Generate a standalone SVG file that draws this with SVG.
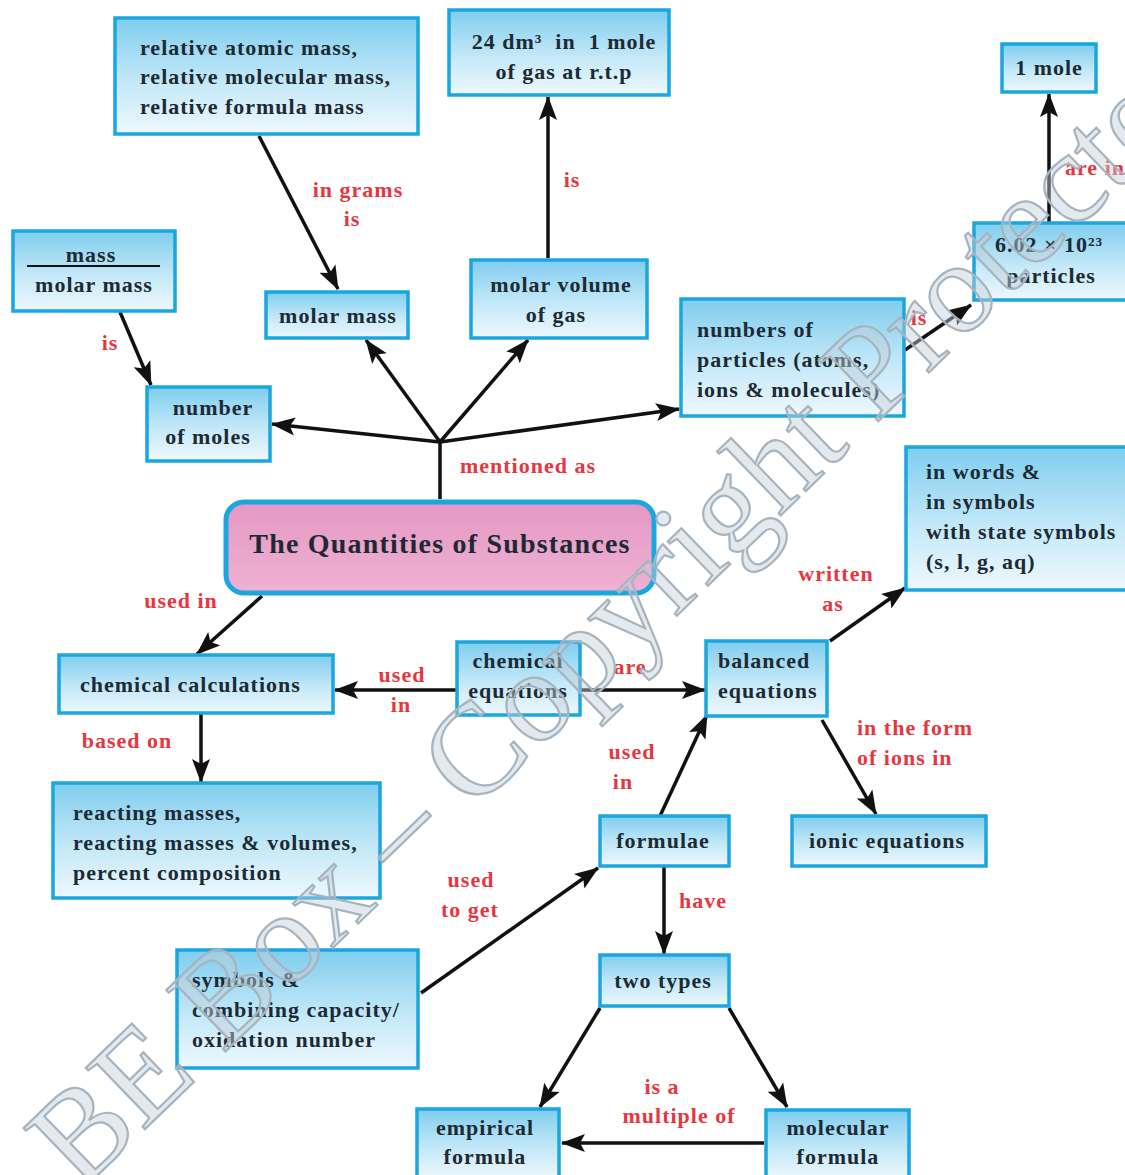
<svg xmlns="http://www.w3.org/2000/svg" width="1125" height="1175" viewBox="0 0 1125 1175">
<style>
.box{fill:url(#bg);stroke:#1aa7df;stroke-width:3.5}
.t{font-family:"Liberation Serif","Times New Roman",serif;font-weight:bold;font-size:22px;letter-spacing:1px;fill:#1e2a33}
.c{text-anchor:middle}
.lbl{font-family:"Liberation Serif","Times New Roman",serif;font-weight:bold;font-size:22px;letter-spacing:1px;fill:#e8363f;text-anchor:middle}
.st{text-anchor:start}
.ln{stroke:#111;stroke-width:3.5;fill:none;marker-end:url(#ah)}
.ln0{stroke:#111;stroke-width:3.5;fill:none}
.wm{font-family:"Liberation Serif","Times New Roman",serif;font-size:130px;fill:#c4ced6;fill-opacity:0.45;stroke:#a6b4bf;stroke-width:2.2}
</style>
<defs>
<linearGradient id="bg" x1="0" y1="0" x2="0" y2="1">
<stop offset="0" stop-color="#7fcdee"/>
<stop offset="0.55" stop-color="#c3e8f8"/>
<stop offset="1" stop-color="#eef8fd"/>
</linearGradient>
<linearGradient id="pg" x1="0" y1="0" x2="0" y2="1">
<stop offset="0" stop-color="#e597c4"/>
<stop offset="1" stop-color="#eeb2d3"/>
</linearGradient>
<marker id="ah" markerUnits="userSpaceOnUse" markerWidth="24" markerHeight="20" viewBox="0 0 24 20" refX="23" refY="10" orient="auto">
<path d="M0,1 L24,10 L0,19 L5,10 z" fill="#111"/>
</marker>
</defs>
<rect width="1125" height="1175" fill="#ffffff"/>

<g id="connectors">
<line class="ln" x1="259" y1="136" x2="338" y2="289"/>
<line class="ln" x1="548" y1="258" x2="548" y2="97"/>
<line class="ln" x1="1049" y1="222" x2="1049" y2="94"/>
<line class="ln" x1="120" y1="312" x2="151" y2="385"/>
<line class="ln0" x1="440" y1="442" x2="440" y2="499"/>
<line class="ln" x1="440" y1="442" x2="272" y2="424"/>
<line class="ln" x1="440" y1="442" x2="366" y2="340"/>
<line class="ln" x1="440" y1="442" x2="528" y2="340"/>
<line class="ln" x1="440" y1="442" x2="679" y2="409"/>
<line class="ln" x1="905" y1="350" x2="971" y2="305"/>
<line class="ln" x1="262" y1="596" x2="197" y2="654"/>
<line class="ln" x1="457" y1="690" x2="335" y2="690"/>
<line class="ln" x1="580" y1="690" x2="705" y2="690"/>
<line class="ln" x1="201" y1="713" x2="201" y2="782"/>
<line class="ln" x1="830" y1="641" x2="905" y2="588"/>
<line class="ln" x1="822" y1="720" x2="876" y2="814"/>
<line class="ln" x1="660" y1="816" x2="707" y2="715"/>
<line class="ln" x1="421" y1="993" x2="598" y2="868"/>
<line class="ln" x1="664" y1="866" x2="664" y2="954"/>
<line class="ln" x1="600" y1="1008" x2="540" y2="1107"/>
<line class="ln" x1="729" y1="1008" x2="787" y2="1107"/>
<line class="ln" x1="764" y1="1143" x2="562" y2="1143"/>
</g>

<g id="labels">
<text class="lbl" x="358" y="197">in grams</text>
<text class="lbl" x="352" y="226">is</text>
<text class="lbl" x="572" y="187">is</text>
<text class="lbl st" x="1065" y="175">are in</text>
<text class="lbl" x="110" y="350">is</text>
<text class="lbl" x="528" y="473">mentioned as</text>
<text class="lbl" x="919" y="325">is</text>
<text class="lbl" x="181" y="608">used in</text>
<text class="lbl" x="402" y="682">used</text>
<text class="lbl" x="401" y="712">in</text>
<text class="lbl" x="630" y="674">are</text>
<text class="lbl" x="127" y="748">based on</text>
<text class="lbl" x="836" y="581">written</text>
<text class="lbl" x="833" y="611">as</text>
<text class="lbl st" x="857" y="735">in the form</text>
<text class="lbl st" x="857" y="765">of ions in</text>
<text class="lbl" x="632" y="759">used</text>
<text class="lbl" x="623" y="789">in</text>
<text class="lbl" x="471" y="887">used</text>
<text class="lbl" x="470" y="917">to get</text>
<text class="lbl" x="703" y="908">have</text>
<text class="lbl" x="662" y="1094">is a</text>
<text class="lbl" x="679" y="1123">multiple of</text>
</g>

<g id="n-relative">
<rect class="box" x="115" y="18" width="303" height="116"/>
<text class="t" x="140" y="55">relative atomic mass,</text>
<text class="t" x="140" y="84">relative molecular mass,</text>
<text class="t" x="140" y="114">relative formula mass</text>
</g>
<g id="n-24dm3">
<rect class="box" x="449" y="10" width="220" height="85"/>
<text class="t c" x="564" y="49" xml:space="preserve">24 dm³  in  1 mole</text>
<text class="t c" x="564" y="79">of gas at r.t.p</text>
</g>
<g id="n-1mole">
<rect class="box" x="1002" y="44" width="94" height="48"/>
<text class="t c" x="1049" y="75">1 mole</text>
</g>
<g id="n-massfrac">
<rect class="box" x="13" y="231" width="162" height="80"/>
<text class="t c" x="91" y="262">mass</text>
<line x1="27" y1="266" x2="160" y2="266" stroke="#111" stroke-width="2"/>
<text class="t c" x="94" y="292">molar mass</text>
</g>
<g id="n-molarmass">
<rect class="box" x="266" y="292" width="142" height="46"/>
<text class="t c" x="338" y="323">molar mass</text>
</g>
<g id="n-molarvol">
<rect class="box" x="471" y="260" width="176" height="78"/>
<text class="t c" x="561" y="292">molar volume</text>
<text class="t c" x="556" y="322">of gas</text>
</g>
<g id="n-avogadro">
<rect class="box" x="974" y="223" width="160" height="77"/>
<text class="t c" x="1049" y="252">6.02 × 10²³</text>
<text class="t c" x="1051" y="283">particles</text>
</g>
<g id="n-particles">
<rect class="box" x="681" y="299" width="223" height="117"/>
<text class="t" x="697" y="337">numbers of</text>
<text class="t" x="697" y="367">particles (atoms,</text>
<text class="t" x="697" y="397">ions &amp; molecules)</text>
</g>
<g id="n-moles">
<rect class="box" x="147" y="387" width="123" height="74"/>
<text class="t c" x="213" y="415">number</text>
<text class="t c" x="208" y="444">of moles</text>
</g>
<g id="n-central">
<rect x="226" y="502" width="428" height="91" rx="18" fill="url(#pg)" stroke="#1aa7df" stroke-width="5"/>
<text class="t c" x="440" y="553" style="font-size:28px;letter-spacing:1.2px">The Quantities of Substances</text>
</g>
<g id="n-words">
<rect class="box" x="906" y="447" width="225" height="143"/>
<text class="t" x="926" y="479">in words &amp;</text>
<text class="t" x="926" y="509">in symbols</text>
<text class="t" x="926" y="539">with state symbols</text>
<text class="t" x="926" y="569">(s, l, g, aq)</text>
</g>
<g id="n-calc">
<rect class="box" x="59" y="655" width="274" height="58"/>
<text class="t" x="80" y="692">chemical calculations</text>
</g>
<g id="n-chemeq">
<rect class="box" x="457" y="642" width="123" height="73"/>
<text class="t c" x="518" y="668">chemical</text>
<text class="t c" x="518" y="698">equations</text>
</g>
<g id="n-balanced">
<rect class="box" x="706" y="641" width="121" height="75"/>
<text class="t" x="718" y="668">balanced</text>
<text class="t" x="718" y="698">equations</text>
</g>
<g id="n-reacting">
<rect class="box" x="53" y="783" width="327" height="115"/>
<text class="t" x="73" y="820">reacting masses,</text>
<text class="t" x="73" y="850">reacting masses &amp; volumes,</text>
<text class="t" x="73" y="880">percent composition</text>
</g>
<g id="n-formulae">
<rect class="box" x="600" y="816" width="129" height="50"/>
<text class="t c" x="663" y="848">formulae</text>
</g>
<g id="n-ionic">
<rect class="box" x="792" y="816" width="194" height="50"/>
<text class="t c" x="887" y="848">ionic equations</text>
</g>
<g id="n-twotypes">
<rect class="box" x="600" y="955" width="129" height="51"/>
<text class="t c" x="663" y="988">two types</text>
</g>
<g id="n-symbols">
<rect class="box" x="177" y="950" width="241" height="118"/>
<text class="t" x="192" y="987">symbols &amp;</text>
<text class="t" x="192" y="1017">combining capacity/</text>
<text class="t" x="192" y="1047">oxidation number</text>
</g>
<g id="n-empirical">
<rect class="box" x="417" y="1109" width="142" height="70"/>
<text class="t c" x="485" y="1135">empirical</text>
<text class="t c" x="485" y="1164">formula</text>
</g>
<g id="n-molecular">
<rect class="box" x="766" y="1110" width="143" height="70"/>
<text class="t c" x="838" y="1135">molecular</text>
<text class="t c" x="838" y="1164">formula</text>
</g>

<g id="watermark">
<text class="wm" x="80" y="1192" transform="rotate(-44 80 1192)">BE Box – Copyright Protected</text>
</g>
</svg>
